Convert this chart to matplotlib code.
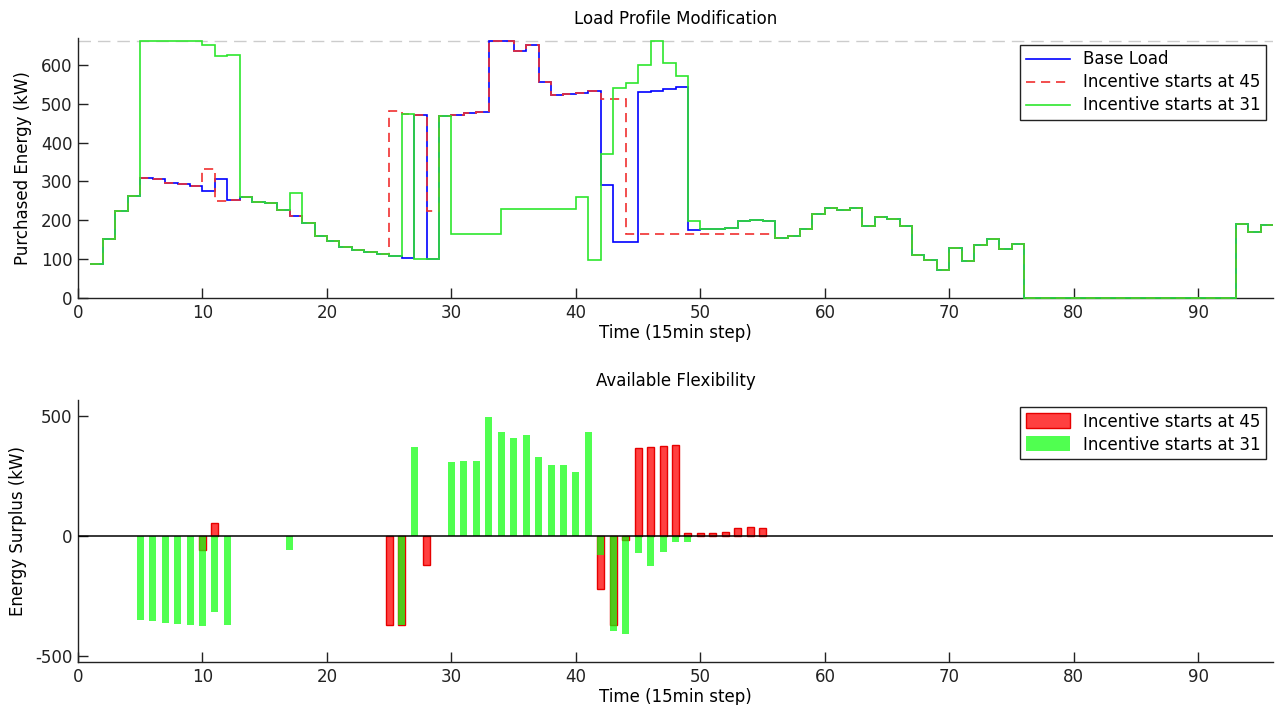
import numpy as np
import matplotlib.pyplot as plt

# time steps (15 min); each value holds on [t, t+1]
t_steps = np.arange(1, 96)
t_edges = np.arange(1, 97)

base_load = [88, 152, 224, 262, 308, 307, 296, 293, 288, 276,
             305, 251, 259, 247, 245, 226, 211, 194, 160, 146,
             130, 124, 118, 113, 108, 102, 472, 101, 468, 472,
             475, 479, 660, 660, 636, 650, 557, 523, 525, 528,
             532, 291, 143, 145, 529, 533, 537, 543, 175, 177,
             178, 180, 197, 201, 199, 155, 160, 177, 215, 231,
             227, 231, 184, 208, 204, 184, 111, 98, 72, 128,
             95, 136, 152, 126, 139, 0, 0, 0, 0, 0,
             0, 0, 0, 0, 0, 0, 0, 0, 0, 0,
             0, 0, 190, 170, 187]

inc_45 = [88, 152, 224, 262, 308, 307, 296, 293, 288, 333,
          250, 251, 259, 247, 245, 226, 211, 194, 160, 146,
          130, 124, 118, 113, 480, 474, 472, 224, 468, 472,
          475, 479, 660, 660, 636, 650, 557, 523, 525, 528,
          532, 512, 512, 164, 164, 164, 164, 164, 164, 164,
          164, 164, 164, 164, 164, 155, 160, 177, 215, 231,
          227, 231, 184, 208, 204, 184, 111, 98, 72, 128,
          95, 136, 152, 126, 139, 0, 0, 0, 0, 0,
          0, 0, 0, 0, 0, 0, 0, 0, 0, 0,
          0, 0, 190, 170, 187]

inc_31 = [88, 152, 224, 262, 660, 660, 660, 660, 660, 650,
          622, 624, 259, 247, 245, 226, 270, 194, 160, 146,
          130, 124, 118, 113, 108, 474, 101, 101, 468, 165,
          165, 165, 165, 228, 228, 228, 228, 228, 228, 261,
          98, 371, 540, 553, 600, 660, 604, 570, 199, 177,
          178, 180, 197, 201, 199, 155, 160, 177, 215, 231,
          227, 231, 184, 208, 204, 184, 111, 98, 72, 128,
          95, 136, 152, 126, 139, 0, 0, 0, 0, 0,
          0, 0, 0, 0, 0, 0, 0, 0, 0, 0,
          0, 0, 190, 170, 187]

max_power = 660

# energy surplus = base load - modified load
surplus_45 = np.array(base_load) - np.array(inc_45)
surplus_31 = np.array(base_load) - np.array(inc_31)

plt.rcParams['font.family'] = 'DejaVu Sans'
plt.rcParams['font.size'] = 12
plt.rcParams['axes.unicode_minus'] = False

W, H = 1277, 705
fig = plt.figure(figsize=(W / 100, H / 100), dpi=100)
ax1 = fig.add_axes([78 / W, 1 - 298 / H, 1195 / W, 260 / H])
ax2 = fig.add_axes([78 / W, 1 - 662 / H, 1195 / W, 262 / H])

for ax in (ax1, ax2):
    ax.spines['top'].set_visible(False)
    ax.spines['right'].set_visible(False)
    for s in ('left', 'bottom'):
        ax.spines[s].set_color('#222222')
        ax.spines[s].set_linewidth(1.0)
    ax.tick_params(direction='in', length=7, width=1, colors='#222222',
                   labelsize=12, pad=4)
    ax.set_xlim(0, 96)
    ax.set_xticks(np.arange(0, 91, 10))
    ax.set_xlabel('Time (15min step)', fontsize=12, labelpad=2)

# top: load profiles
ax1.axhline(max_power, color='#cccccc', lw=1, dashes=(9, 5), zorder=1)
ax1.stairs(base_load, t_edges, baseline=None, color='#0000ff', lw=1.2,
           label='Base Load', clip_on=False, zorder=2)
ax1.stairs(inc_45, t_edges, baseline=None, color='#f03030', lw=1.2,
           linestyle=(0, (5.5, 3.5)), label='Incentive starts at 45',
           clip_on=False, zorder=3)
ax1.stairs(inc_31, t_edges, baseline=None, color='#2ee62e', lw=1.2,
           label='Incentive starts at 31', clip_on=False, zorder=4)
ax1.set_ylim(0, 669)
ax1.set_yticks(np.arange(0, 601, 100))
ax1.set_ylabel('Purchased Energy (kW)', fontsize=12, labelpad=6)
ax1.set_title('Load Profile Modification', fontsize=12, pad=10)
leg1 = ax1.legend(loc='upper right', fontsize=12, fancybox=False,
                  framealpha=1, edgecolor='#222222', borderaxespad=0.4,
                  handlelength=2.6, labelspacing=0.3, borderpad=0.35)
leg1.get_frame().set_linewidth(1.0)

# bottom: flexibility bars
m45 = surplus_45 != 0
m31 = surplus_31 != 0
ax2.bar(t_steps[m45], surplus_45[m45], width=0.56,
        facecolor=(1, 0, 0, 0.75), edgecolor=(0.9, 0, 0, 1), lw=1.0,
        label='Incentive starts at 45', zorder=2)
ax2.bar(t_steps[m31], surplus_31[m31], width=0.56,
        facecolor=(0.05, 1, 0.05, 0.72), edgecolor='none',
        label='Incentive starts at 31', zorder=3)
ax2.axhline(0, color='black', lw=1.1, zorder=4)
ax2.set_ylim(-525, 566)
ax2.set_yticks([-500, 0, 500])
ax2.set_ylabel('Energy Surplus (kW)', fontsize=12, labelpad=6)
ax2.set_title('Available Flexibility', fontsize=12, pad=10)
leg2 = ax2.legend(loc='upper right', fontsize=12, fancybox=False,
                  framealpha=1, edgecolor='#222222', borderaxespad=0.4,
                  handlelength=2.6, handleheight=1.0, labelspacing=0.3,
                  borderpad=0.35)
leg2.get_frame().set_linewidth(1.0)

fig.savefig('out.png', dpi=100)
